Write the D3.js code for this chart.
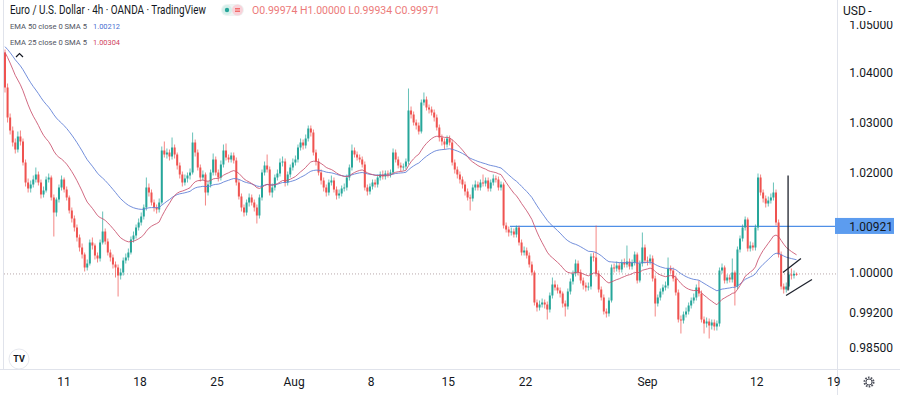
<!DOCTYPE html>
<meta charset="utf-8">
<style>
  body { margin: 0; background: #fff; }
  text { font-family: Roboto, "Liberation Sans", sans-serif; }
</style>
<svg id="chart" width="900" height="395"></svg>
<script src="https://cdn.jsdelivr.net/npm/d3@7"></script>
<script>

// 4h EUR/USD candles, bar 0 = Jul 5 afternoon, last bar = Sep 15
const firstOpen = 1.0440
const closes = [
  1.0370,1.0310,1.0284,1.0260,1.0246,1.0272,1.0262,1.0220,1.0180,1.0168,
  1.0176,1.0186,1.0196,1.0180,1.0156,1.0164,1.0186,1.0190,1.0150,1.0120,
  1.0146,1.0170,1.0186,1.0166,1.0150,1.0124,1.0108,1.0090,1.0070,1.0050,
  1.0036,1.0010,1.0018,1.0060,1.0054,1.0034,1.0028,1.0060,1.0082,1.0062,
  1.0040,1.0030,1.0016,1.0010,0.9994,1.0000,1.0024,1.0030,1.0040,1.0066,
  1.0074,1.0090,1.0100,1.0112,1.0130,1.0170,1.0160,1.0140,1.0130,1.0126,
  1.0140,1.0244,1.0236,1.0240,1.0232,1.0250,1.0236,1.0214,1.0196,1.0180,
  1.0188,1.0194,1.0200,1.0260,1.0240,1.0210,1.0190,1.0196,1.0160,1.0176,
  1.0200,1.0226,1.0200,1.0190,1.0216,1.0244,1.0230,1.0226,1.0234,1.0224,
  1.0180,1.0152,1.0130,1.0120,1.0140,1.0150,1.0140,1.0130,1.0114,1.0150,
  1.0200,1.0214,1.0206,1.0160,1.0170,1.0190,1.0198,1.0220,1.0222,1.0180,
  1.0196,1.0210,1.0220,1.0226,1.0250,1.0260,1.0254,1.0268,1.0288,1.0280,
  1.0240,1.0222,1.0200,1.0184,1.0170,1.0160,1.0180,1.0184,1.0166,1.0154,
  1.0158,1.0168,1.0170,1.0190,1.0210,1.0244,1.0236,1.0230,1.0226,1.0216,
  1.0170,1.0162,1.0172,1.0180,1.0176,1.0190,1.0196,1.0192,1.0198,1.0196,
  1.0200,1.0240,1.0226,1.0214,1.0210,1.0212,1.0222,1.0324,1.0316,1.0300,
  1.0294,1.0282,1.0340,1.0346,1.0330,1.0326,1.0320,1.0310,1.0290,1.0270,
  1.0262,1.0256,1.0268,1.0260,1.0220,1.0206,1.0196,1.0186,1.0176,1.0162,
  1.0150,1.0148,1.0170,1.0176,1.0170,1.0180,1.0178,1.0184,1.0168,1.0180,
  1.0188,1.0186,1.0170,1.0176,1.0094,1.0086,1.0080,1.0082,1.0076,1.0090,
  1.0060,1.0040,1.0044,1.0034,1.0016,1.0000,0.9940,0.9930,0.9936,0.9940,
  0.9936,0.9926,0.9954,0.9976,0.9970,0.9964,0.9958,0.9938,0.9932,0.9962,
  0.9982,0.9998,1.0018,1.0000,0.9984,0.9974,0.9970,0.9972,1.0032,1.0030,
  0.9998,0.9966,0.9950,0.9922,0.9918,0.9944,1.0010,1.0008,1.0014,1.0006,
  1.0020,1.0016,1.0022,1.0012,1.0020,1.0036,0.9984,1.0018,1.0050,1.0024,
  1.0022,1.0028,0.9988,0.9938,0.9950,0.9962,0.9970,0.9974,1.0008,1.0004,
  0.9988,0.9960,0.9906,0.9904,0.9916,0.9922,0.9934,0.9944,0.9950,0.9970,
  0.9958,0.9906,0.9898,0.9902,0.9894,0.9900,0.9892,0.9898,1.0004,1.0010,
  0.9984,0.9990,0.9986,1.0000,0.9972,1.0046,1.0068,1.0090,1.0106,1.0048,
  1.0054,1.0050,1.0090,1.0190,1.0160,1.0148,1.0138,1.0144,1.0150,1.0160,
  1.0100,1.0036,0.9972,0.9966,0.9972,0.9996,0.9994,0.99974,0.99971
]
const highs = [
  1.0446,1.0378,1.0318,1.0292,1.0268,1.0282,1.0284,1.0268,1.0226,1.0188,
  1.0184,1.0194,1.0210,1.0202,1.0186,1.0172,1.0192,1.0198,1.0194,1.0156,
  1.0150,1.0176,1.0194,1.0190,1.0172,1.0154,1.0130,1.0114,1.0096,1.0076,
  1.0058,1.0040,1.0026,1.0066,1.0070,1.0058,1.0040,1.0066,1.0122,1.0088,
  1.0068,1.0046,1.0036,1.0022,1.0016,1.0008,1.0030,1.0038,1.0048,1.0072,
  1.0082,1.0096,1.0108,1.0120,1.0136,1.0190,1.0178,1.0166,1.0146,1.0136,
  1.0148,1.0252,1.0262,1.0248,1.0246,1.0270,1.0256,1.0240,1.0220,1.0202,
  1.0196,1.0200,1.0208,1.0280,1.0266,1.0246,1.0216,1.0204,1.0200,1.0182,
  1.0206,1.0238,1.0232,1.0206,1.0224,1.0256,1.0258,1.0236,1.0240,1.0240,
  1.0230,1.0186,1.0158,1.0136,1.0146,1.0158,1.0156,1.0146,1.0136,1.0156,
  1.0206,1.0222,1.0236,1.0212,1.0178,1.0196,1.0206,1.0228,1.0232,1.0228,
  1.0202,1.0216,1.0228,1.0234,1.0256,1.0268,1.0266,1.0276,1.0294,1.0294,
  1.0286,1.0246,1.0228,1.0206,1.0190,1.0176,1.0186,1.0194,1.0190,1.0172,
  1.0166,1.0174,1.0178,1.0196,1.0216,1.0256,1.0250,1.0242,1.0236,1.0232,
  1.0222,1.0176,1.0178,1.0186,1.0186,1.0196,1.0202,1.0204,1.0204,1.0204,
  1.0206,1.0248,1.0246,1.0232,1.0220,1.0218,1.0228,1.0368,1.0332,1.0322,
  1.0306,1.0300,1.0346,1.0360,1.0352,1.0336,1.0332,1.0326,1.0316,1.0296,
  1.0276,1.0268,1.0274,1.0274,1.0266,1.0226,1.0212,1.0202,1.0192,1.0182,
  1.0168,1.0156,1.0176,1.0184,1.0182,1.0186,1.0196,1.0190,1.0190,1.0186,
  1.0196,1.0194,1.0192,1.0182,1.0180,1.0100,1.0092,1.0090,1.0088,1.0094,
  1.0094,1.0066,1.0052,1.0050,1.0040,1.0022,1.0004,0.9946,0.9944,0.9948,
  0.9946,0.9942,0.9960,0.9990,0.9984,0.9976,0.9970,0.9962,0.9944,0.9968,
  0.9988,1.0004,1.0026,1.0024,1.0006,0.9990,0.9980,0.9980,1.0038,1.0040,
  1.0094,1.0004,0.9972,0.9956,0.9928,0.9950,1.0016,1.0018,1.0022,1.0020,
  1.0026,1.0028,1.0054,1.0028,1.0026,1.0042,1.0040,1.0024,1.0080,1.0056,
  1.0032,1.0036,1.0034,0.9994,0.9956,0.9968,0.9976,0.9982,1.0030,1.0014,
  1.0010,0.9994,0.9966,0.9914,0.9922,0.9930,0.9940,0.9950,0.9958,0.9976,
  0.9984,0.9964,0.9912,0.9910,0.9908,0.9906,0.9906,0.9904,1.0010,1.0018,
  1.0014,0.9996,0.9996,1.0028,1.0004,1.0052,1.0074,1.0096,1.0112,1.0110,
  1.0062,1.0060,1.0096,1.0198,1.0196,1.0166,1.0154,1.0152,1.0158,1.0180,
  1.0166,1.0106,1.0042,0.9978,0.9980,1.0002,1.0008,1.0004,1.0000
]
const lows = [
  1.0360,1.0300,1.0276,1.0252,1.0238,1.0240,1.0254,1.0214,1.0172,1.0160,
  1.0160,1.0170,1.0180,1.0174,1.0148,1.0150,1.0160,1.0180,1.0144,1.0072,
  1.0112,1.0140,1.0164,1.0160,1.0144,1.0118,1.0100,1.0082,1.0062,1.0042,
  1.0028,1.0002,1.0004,1.0014,1.0046,1.0026,1.0020,1.0022,1.0056,1.0056,
  1.0034,1.0022,1.0008,0.9990,0.9952,0.9986,0.9994,1.0018,1.0024,1.0036,
  1.0060,1.0068,1.0084,1.0094,1.0106,1.0124,1.0152,1.0134,1.0122,1.0118,
  1.0120,1.0136,1.0230,1.0228,1.0224,1.0226,1.0228,1.0206,1.0188,1.0172,
  1.0174,1.0180,1.0186,1.0196,1.0232,1.0204,1.0182,1.0184,1.0134,1.0154,
  1.0170,1.0194,1.0194,1.0182,1.0184,1.0210,1.0224,1.0220,1.0220,1.0218,
  1.0174,1.0146,1.0122,1.0112,1.0114,1.0132,1.0134,1.0122,1.0098,1.0108,
  1.0144,1.0194,1.0200,1.0154,1.0150,1.0164,1.0184,1.0192,1.0212,1.0172,
  1.0174,1.0190,1.0204,1.0214,1.0220,1.0244,1.0246,1.0248,1.0262,1.0272,
  1.0234,1.0214,1.0194,1.0176,1.0162,1.0152,1.0154,1.0174,1.0160,1.0146,
  1.0148,1.0152,1.0162,1.0164,1.0184,1.0204,1.0230,1.0224,1.0220,1.0210,
  1.0164,1.0154,1.0156,1.0166,1.0170,1.0170,1.0184,1.0186,1.0186,1.0190,
  1.0190,1.0196,1.0220,1.0208,1.0202,1.0204,1.0206,1.0216,1.0308,1.0294,
  1.0286,1.0276,1.0278,1.0334,1.0324,1.0318,1.0314,1.0302,1.0284,1.0262,
  1.0254,1.0246,1.0250,1.0254,1.0214,1.0198,1.0188,1.0178,1.0168,1.0154,
  1.0144,1.0124,1.0142,1.0164,1.0164,1.0164,1.0172,1.0172,1.0162,1.0162,
  1.0174,1.0180,1.0164,1.0164,1.0088,1.0080,1.0072,1.0074,1.0070,1.0070,
  1.0054,1.0034,1.0034,1.0028,1.0010,0.9994,0.9934,0.9922,0.9924,0.9930,
  0.9928,0.9906,0.9920,0.9948,0.9964,0.9958,0.9950,0.9930,0.9912,0.9926,
  0.9956,0.9976,0.9992,0.9994,0.9978,0.9966,0.9962,0.9964,0.9966,1.0022,
  0.9992,0.9960,0.9944,0.9916,0.9910,0.9912,0.9940,1.0000,1.0002,1.0000,
  1.0000,1.0010,1.0010,1.0006,1.0006,1.0014,0.9978,0.9980,1.0012,1.0018,
  1.0014,1.0016,0.9982,0.9912,0.9932,0.9944,0.9956,0.9964,0.9968,0.9998,
  0.9982,0.9954,0.9900,0.9878,0.9898,0.9910,0.9916,0.9928,0.9938,0.9944,
  0.9952,0.9900,0.9878,0.9890,0.9868,0.9886,0.9884,0.9884,0.9892,0.9998,
  0.9978,0.9978,0.9980,0.9980,0.9934,0.9966,1.0040,1.0062,1.0084,1.0042,
  1.0042,1.0044,1.0044,1.0084,1.0154,1.0140,1.0130,1.0132,1.0138,1.0144,
  1.0094,1.0030,0.9966,0.9958,0.9960,0.9966,0.9986,0.9988,0.99934
]

// EMA levels just before the first visible bar
const ema50Seed = 1.0455
const ema25Seed = 1.0446

const priceTicks = [1.05, 1.04, 1.03, 1.02, 1.00, 0.992, 0.985]
const timeLabels = ["11", "18", "25", "Aug", "8", "15", "22", "Sep", "12", "19"]
const timeBars = [23, 52.5, 82.5, 112.5, 142.5, 172.5, 202.5, 250, 292.5, 322.5]

// user drawings
const levelPrice = 1.00921, levelFromBar = 196.5
const flagPole = {bar: 304.7, top: 1.0194, bottom: 0.9964}
const pennantTop = [[302.7, 1.0000], [309.7, 1.0028]]
const pennantBottom = [[303.9, 0.9954], [314, 0.9986]]

const legendRows = [
  {name: "EMA 50 close 0 SMA 5", value: "1.00212", color: "#4a6fd0"},
  {name: "EMA 25 close 0 SMA 5", value: "1.00304", color: "#d0435e"}
]
const ohlcText = "O0.99974 H1.00000 L0.99934 C0.99971"

const up = "#26a69a", down = "#ef5350"
const W = 900, H = 395, axisX = 837, axisY = 369.5

const svg = d3.select("#chart")
svg.append("rect").attr("width", W).attr("height", H).attr("fill", "#fff")

const x = d3.scaleLinear().domain([0, 322.5]).range([5, 5 + 322.5 * 2.57])
const y = d3.scaleLinear().domain([1.00, 1.02]).range([272.5, 172.5])

const candles = closes.map((c, i) => ({
  i, o: i === 0 ? firstOpen : closes[i - 1], h: highs[i], l: lows[i], c
}))

function ema(seed, n) {
  const k = 2 / (n + 1)
  let e = seed
  return closes.map((c, i) => { e = c * k + e * (1 - k); return [i, e] })
}

const plot = svg.append("g")

// frame lines
svg.append("line").attr("x1", 3.5).attr("x2", 3.5).attr("y1", 0).attr("y2", axisY)
  .attr("stroke", "#e0e3eb")
svg.append("line").attr("x1", axisX + 0.5).attr("x2", axisX + 0.5).attr("y1", 0).attr("y2", H)
  .attr("stroke", "#e0e3eb")
svg.append("line").attr("x1", 0).attr("x2", W).attr("y1", axisY).attr("y2", axisY)
  .attr("stroke", "#e0e3eb")

// current price dotted line
plot.append("line")
  .attr("x1", 4).attr("x2", axisX)
  .attr("y1", y(closes[closes.length - 1])).attr("y2", y(closes[closes.length - 1]))
  .attr("stroke", "#b8a8ac").attr("stroke-dasharray", "1,2")

// horizontal level
plot.append("line")
  .attr("x1", x(levelFromBar)).attr("x2", axisX)
  .attr("y1", y(levelPrice)).attr("y2", y(levelPrice))
  .attr("stroke", "#4f8fe6").attr("stroke-width", 1.3)

// candles
const cg = plot.selectAll("g.candle").data(candles).join("g").attr("class", "candle")
cg.append("line")
  .attr("x1", d => x(d.i)).attr("x2", d => x(d.i))
  .attr("y1", d => y(d.h)).attr("y2", d => y(d.l))
  .attr("stroke", d => d.c >= d.o ? up : down).attr("stroke-opacity", 0.7)
cg.append("rect")
  .attr("x", d => x(d.i) - 1).attr("width", 2)
  .attr("y", d => y(Math.max(d.o, d.c)))
  .attr("height", d => Math.max(1, Math.abs(y(d.o) - y(d.c))))
  .attr("fill", d => d.c >= d.o ? up : down)

// EMAs
const line = d3.line().x(d => x(d[0])).y(d => y(d[1]))
plot.append("path").attr("d", line(ema(ema50Seed, 50)))
  .attr("fill", "none").attr("stroke", "#5b7bd5").attr("stroke-opacity", 0.85)
plot.append("path").attr("d", line(ema(ema25Seed, 25)))
  .attr("fill", "none").attr("stroke", "#c9506c").attr("stroke-opacity", 0.85)

// flag drawings
plot.append("line")
  .attr("x1", x(flagPole.bar)).attr("x2", x(flagPole.bar))
  .attr("y1", y(flagPole.top)).attr("y2", y(flagPole.bottom))
  .attr("stroke", "#1e222d").attr("stroke-width", 1.3)
plot.selectAll("line.pennant").data([pennantTop, pennantBottom]).join("line")
  .attr("class", "pennant")
  .attr("x1", d => x(d[0][0])).attr("y1", d => y(d[0][1]))
  .attr("x2", d => x(d[1][0])).attr("y2", d => y(d[1][1]))
  .attr("stroke", "#1e222d").attr("stroke-width", 1.3)

// price axis, the top label is partly hidden under the currency header
const yAxis = svg.append("g")
yAxis.selectAll("text.tick").data(priceTicks).join("text")
  .attr("class", "tick")
  .attr("x", 893).attr("y", d => y(d) + (d === 1.05 ? 2 : 0)).attr("dy", "0.35em")
  .attr("text-anchor", "end").attr("font-size", 12).attr("fill", "#131722")
  .text(d => d.toFixed(5))

yAxis.append("rect")
  .attr("x", axisX - 2).attr("y", y(levelPrice) - 8.5).attr("width", 59).attr("height", 16)
  .attr("fill", "#5c9cef")
yAxis.append("text")
  .attr("x", 893).attr("y", y(levelPrice)).attr("dy", "0.35em")
  .attr("text-anchor", "end").attr("font-size", 12).attr("fill", "#131722")
  .text(levelPrice.toFixed(5))

svg.append("rect").attr("x", axisX + 1).attr("y", 0).attr("width", W - axisX).attr("height", 21)
  .attr("fill", "#fff")
svg.append("text").attr("x", 843).attr("y", 15).attr("font-size", 12).attr("fill", "#131722")
  .text("USD\u2009-")

// time axis
svg.selectAll("text.time").data(timeLabels).join("text")
  .attr("class", "time")
  .attr("x", (d, i) => x(timeBars[i])).attr("y", 382).attr("dy", "0.35em")
  .attr("text-anchor", "middle").attr("font-size", 12).attr("fill", "#131722")
  .text(d => d)

// gear icon
const gear = svg.append("g").attr("transform", "translate(869,382)")
gear.append("circle").attr("r", 4.5).attr("fill", "none").attr("stroke", "#50535e")
  .attr("stroke-width", 2).attr("stroke-dasharray", "1.6,1.2")
gear.append("circle").attr("r", 3).attr("fill", "#fff").attr("stroke", "#50535e").attr("stroke-width", 1)

// TV logo
const logo = svg.append("g").attr("transform", "translate(19,359)")
logo.append("circle").attr("r", 10).attr("fill", "#fff").attr("stroke", "#e6e8ee")
logo.append("text").attr("text-anchor", "middle").attr("dy", "0.35em")
  .attr("font-size", 9).attr("font-weight", "bold").attr("fill", "#131722").text("TV")

// header
svg.append("text").attr("x", 10).attr("y", 14).attr("font-size", 12)
  .attr("textLength", 196).attr("lengthAdjust", "spacingAndGlyphs").attr("fill", "#131722")
  .text("Euro / U.S. Dollar \u00b7 4h \u00b7 OANDA \u00b7 TradingView")

const pill = svg.append("g").attr("transform", "translate(221,4)")
pill.append("rect").attr("width", 23).attr("height", 12).attr("rx", 6).attr("fill", "#eef4f3")
pill.append("circle").attr("cx", 6).attr("cy", 6).attr("r", 5).attr("fill", "#d5efea")
pill.append("circle").attr("cx", 6).attr("cy", 6).attr("r", 2.2).attr("fill", up)
pill.append("circle").attr("cx", 16.5).attr("cy", 6).attr("r", 5.5).attr("fill", "#f8d3da")
pill.selectAll("line").data([4.8, 7.2]).join("line")
  .attr("x1", 14).attr("x2", 19).attr("y1", d => d).attr("y2", d => d)
  .attr("stroke", down).attr("stroke-width", 1.2)

svg.append("text").attr("x", 252).attr("y", 13.5).attr("font-size", 10.5).attr("fill", "#ec7a7a")
  .text(ohlcText)

const legend = svg.selectAll("g.legend").data(legendRows).join("g")
  .attr("class", "legend")
  .attr("transform", (d, i) => `translate(10, ${29 + i * 15.5})`)
legend.append("text").attr("font-size", 8).attr("fill", "#50535e")
  .attr("textLength", 77).attr("lengthAdjust", "spacingAndGlyphs").text(d => d.name)
legend.append("text").attr("x", 83).attr("font-size", 8).attr("fill", d => d.color)
  .attr("textLength", 27).attr("lengthAdjust", "spacingAndGlyphs").text(d => d.value)

// collapse chevron
svg.append("path").attr("d", "M16,57 L19.5,53.5 L23,57")
  .attr("fill", "none").attr("stroke", "#131722").attr("stroke-width", 1.2)

</script>
